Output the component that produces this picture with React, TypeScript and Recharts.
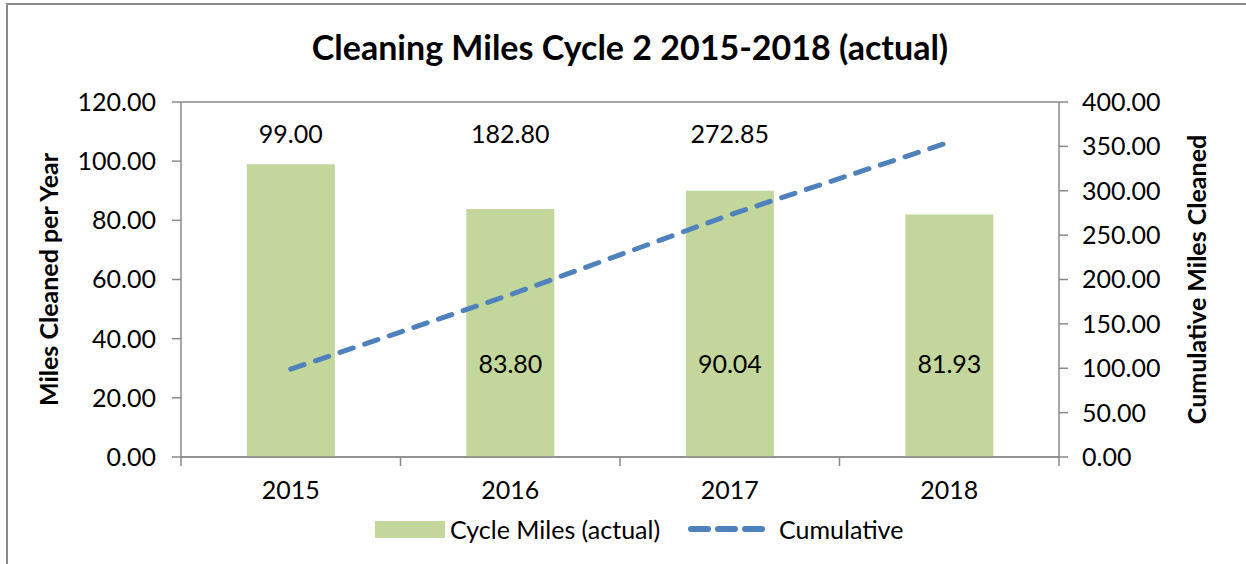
import React from 'react';
import { ComposedChart, Bar, Line, XAxis, YAxis, CartesianGrid, LabelList } from 'recharts';

const years = ['2015', '2016', '2017', '2018'];
const cycleMiles = [99.0, 83.8, 90.04, 81.93];
const cumulative = [99.0, 182.8, 272.85, 354.78];
const showBarLabel = [false, true, true, true];
const showCumLabel = [true, true, true, false];
const leftTicks = [0, 20, 40, 60, 80, 100, 120];
const rightTicks = [0, 50, 100, 150, 200, 250, 300, 350, 400];

const TITLE = 'Cleaning Miles Cycle 2 2015-2018 (actual)';
const LEFT_TITLE = 'Miles Cleaned per Year';
const RIGHT_TITLE = 'Cumulative Miles Cleaned';
const BAR_NAME = 'Cycle Miles (actual)';
const LINE_NAME = 'Cumulative';

const data = years.map((y, i) => ({
  year: y,
  cycle: cycleMiles[i],
  cum: cumulative[i],
  i,
}));

const W = 1246;
const H = 564;
const PLOT_TOP = 102;
const PLOT_BOTTOM = 457;
const FONT = 'Lato, "Open Sans", sans-serif';
const GRAY = '#8a8a8a';
const GREEN = '#c3d69b';
const BLUE = '#4f81bd';
const FS = 25;

const fmt = (v: number) => v.toFixed(2);

const XTick = (props: any) => {
  const { x, payload, index, visibleTicksCount } = props;
  const off = payload && payload.offset != null ? payload.offset : 110;
  const last = index === (visibleTicksCount ?? years.length) - 1;
  return (
    <g>
      <line x1={x - off} x2={x - off} y1={PLOT_BOTTOM} y2={PLOT_BOTTOM + 9} stroke={GRAY} strokeWidth={1.5} />
      {last && (
        <line x1={x + off} x2={x + off} y1={PLOT_BOTTOM} y2={PLOT_BOTTOM + 9} stroke={GRAY} strokeWidth={1.5} />
      )}
      <text x={x} y={PLOT_BOTTOM + 42} textAnchor="middle" fontSize={FS} fontFamily={FONT} fill="#000">
        {payload.value}
      </text>
    </g>
  );
};

const BarLabel = (props: any) => {
  const { x, y, width, height, value, index } = props;
  if (!showBarLabel[index]) return null;
  return (
    <text x={x + width / 2} y={y + height - 94} textAnchor="middle" dominantBaseline="central" fontSize={FS} fontFamily={FONT} fill="#000">
      {fmt(value)}
    </text>
  );
};

const CumLabel = (props: any) => {
  const { x, value, index } = props;
  if (!showCumLabel[index]) return null;
  return (
    <text x={x} y={PLOT_TOP + 31} textAnchor="middle" dominantBaseline="central" fontSize={FS} fontFamily={FONT} fill="#000">
      {fmt(value)}
    </text>
  );
};

const LeftTitle = (props: any) => {
  const { viewBox } = props;
  const cx = viewBox.x + 28;
  const cy = viewBox.y + viewBox.height / 2;
  return (
    <text x={cx} y={cy} transform={`rotate(-90 ${cx} ${cy})`} textAnchor="middle" dominantBaseline="central" fontSize={FS} fontWeight={700} fontFamily={FONT} fill="#000">
      {LEFT_TITLE}
    </text>
  );
};

const RightTitle = (props: any) => {
  const { viewBox } = props;
  const cx = viewBox.x + 137;
  const cy = viewBox.y + viewBox.height / 2;
  return (
    <text x={cx} y={cy} transform={`rotate(-90 ${cx} ${cy})`} textAnchor="middle" dominantBaseline="central" fontSize={FS} fontWeight={700} fontFamily={FONT} fill="#000">
      {RIGHT_TITLE}
    </text>
  );
};

export default function App() {
  return (
    <div style={{ position: 'absolute', left: 0, top: 0, width: W, height: H, overflow: 'hidden', background: '#fff', fontFamily: FONT }}>
      <div style={{ position: 'absolute', left: 6, top: 3, width: 1400, height: 800, border: `2px solid ${GRAY}` }} />
      <div style={{ position: 'absolute', left: 0, width: 1260, top: 26, textAlign: 'center', fontSize: 34, fontWeight: 700, color: '#000', lineHeight: '42px' }}>
        {TITLE}
      </div>
      <div style={{ position: 'absolute', left: 0, top: 0 }}>
        <ComposedChart
          width={W}
          height={H}
          data={data}
          margin={{ top: PLOT_TOP, right: 20, bottom: 77, left: 20 }}
          barCategoryGap="30%"
        >
          <CartesianGrid horizontal vertical={false} stroke={GRAY} strokeWidth={1.5} />
          <XAxis
            dataKey="year"
            xAxisId="x"
            height={30}
            axisLine={{ stroke: GRAY, strokeWidth: 1.5 }}
            tickLine={false}
            tick={<XTick />}
            interval={0}
          />
          <YAxis
            yAxisId="left"
            orientation="left"
            width={161}
            domain={[0, 120]}
            ticks={leftTicks}
            tickFormatter={fmt}
            axisLine={{ stroke: GRAY, strokeWidth: 1.5 }}
            tickLine={{ stroke: GRAY, strokeWidth: 1.5 }}
            tickSize={9}
            tickMargin={16}
            tick={{ fontSize: FS, fontFamily: FONT, fill: '#000' }}
            label={<LeftTitle />}
          />
          <YAxis
            yAxisId="right"
            orientation="right"
            width={167}
            domain={[0, 400]}
            ticks={rightTicks}
            tickFormatter={fmt}
            axisLine={{ stroke: GRAY, strokeWidth: 1.5 }}
            tickLine={{ stroke: GRAY, strokeWidth: 1.5 }}
            tickSize={9}
            tickMargin={14}
            tick={{ fontSize: FS, fontFamily: FONT, fill: '#000' }}
            label={<RightTitle />}
          />
          <Bar dataKey="cycle" name={BAR_NAME} xAxisId="x" yAxisId="left" fill={GREEN} isAnimationActive={false}>
            <LabelList dataKey="cycle" content={<BarLabel />} />
          </Bar>
          <Line
            dataKey="cum"
            name={LINE_NAME}
            xAxisId="x"
            yAxisId="right"
            stroke={BLUE}
            strokeWidth={5}
            strokeDasharray="14 12"
            strokeLinecap="round"
            dot={false}
            activeDot={false}
            isAnimationActive={false}
          >
            <LabelList dataKey="cum" content={<CumLabel />} />
          </Line>
        </ComposedChart>
      </div>
      <div style={{ position: 'absolute', left: 375, top: 511, display: 'flex', alignItems: 'center', height: 36, fontSize: FS, color: '#000', whiteSpace: 'nowrap' }}>
        <div style={{ width: 70, height: 17, background: GREEN, marginRight: 5 }} />
        <span>{BAR_NAME}</span>
        <svg width={84} height={10} style={{ marginLeft: 28, marginRight: 7 }}>
          <line x1={3} x2={81} y1={5} y2={5} stroke={BLUE} strokeWidth={6} strokeDasharray="17 10" strokeLinecap="round" />
        </svg>
        <span>{LINE_NAME}</span>
      </div>
    </div>
  );
}
